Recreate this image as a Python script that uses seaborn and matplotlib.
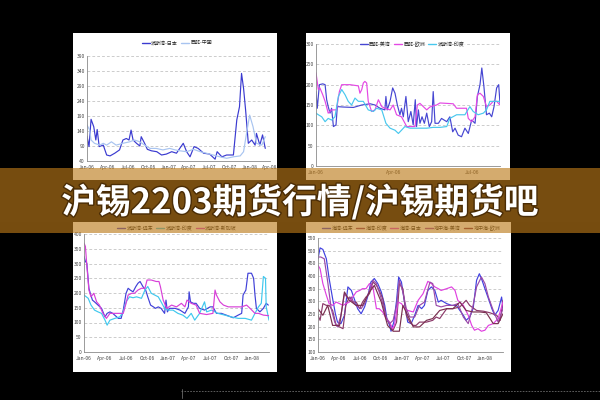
import numpy as np
import pandas as pd
import matplotlib
matplotlib.use("Agg")
import matplotlib.pyplot as plt
import matplotlib.patheffects as pe
from matplotlib.patches import Rectangle
from matplotlib.lines import Line2D
import seaborn as sns

sns.set_style("white")
plt.rcParams['font.family'] = ['Noto Sans CJK SC', 'DejaVu Sans']
plt.rcParams['axes.unicode_minus'] = False

TITLE = "沪锡2203期货行情/沪锡期货吧"

# ---------------- data (x = months since Jan-06) ----------------
month_labels_27 = ["Jan-06", "Apr-06", "Jul-06", "Oct-06", "Jan-07", "Apr-07",
                   "Jul-07", "Oct-07", "Jan-08", "Apr-08"]

# Panel 1
p1_names = ["波斯湾-日本", "西非-中国"]
p1_t_a = [0, 0.3, 0.6, 1.0, 1.3, 1.5, 1.8, 2.4, 2.9, 3.4, 4.1, 4.8, 5.3, 5.8, 6.2, 6.5, 6.8, 7.3, 7.8, 8.0,
          8.5, 8.9, 9.5, 10.3, 11.0, 11.7, 12.5, 13.2, 14.2, 14.7, 15.2, 15.8, 16.4, 17.2, 18.1, 18.9, 19.2,
          19.9, 20.6, 21.6, 22.1, 22.5, 22.8, 23.1, 23.4, 23.8, 24.3, 24.8, 25.0, 25.5, 25.9, 26.3]
p1_v_a = [123, 88, 179, 154, 110, 145, 88, 93, 60, 57, 66, 77, 110, 115, 110, 143, 110, 99, 90, 121,
          99, 79, 74, 71, 60, 63, 71, 66, 99, 71, 54, 88, 82, 66, 63, 46, 71, 54, 60, 60,
          177, 221, 332, 282, 210, 99, 110, 93, 132, 93, 127, 82]
p1_t_b = [0, 0.4, 0.6, 1.1, 1.9, 2.4, 2.9, 3.6, 4.3, 5.3, 6.3, 7.0, 7.8, 8.5, 9.3, 10.2, 11.2, 12.2, 13.0,
          13.7, 14.7, 15.7, 16.7, 17.6, 18.6, 19.6, 20.6, 21.6, 22.6, 23.1, 23.5, 24.0, 24.5, 25.0, 25.8, 26.3]
p1_v_b = [160, 143, 110, 99, 93, 99, 93, 104, 93, 99, 104, 110, 104, 93, 82, 82, 77, 82, 77, 74,
          71, 79, 71, 66, 60, 54, 49, 54, 57, 71, 127, 193, 154, 99, 93, 121]
p1_yticks = [40, 90, 140, 190, 240, 290, 340, 390]

# Panel 2
p2_names = ["西非-美湾", "西非-欧洲", "波斯湾-印度"]
p2_t_a = [0, 0.05, 0.13, 0.26, 0.35, 0.41, 0.47, 0.54, 0.60, 0.67, 0.77, 0.82, 1.05, 1.44, 1.76, 2.08, 2.27,
          2.46, 2.65, 2.69, 2.74, 2.85, 2.95, 3.04, 3.13, 3.23, 3.29, 3.36, 3.46, 3.55, 3.65, 3.74, 3.82,
          3.87, 3.94, 4.00, 4.08, 4.17, 4.26, 4.36, 4.45, 4.51, 4.58, 4.71, 4.83, 5.03, 5.15, 5.26, 5.35,
          5.47, 5.60, 5.73, 5.86, 5.99, 6.12, 6.21, 6.31, 6.38, 6.46, 6.56, 6.67, 6.76, 6.85, 6.95, 7.03, 7.08]
p2_v_a = [183, 142, 200, 202, 200, 163, 146, 130, 142, 97, 101, 146, 145, 144, 150, 153, 150,
          142, 138, 171, 138, 159, 192, 179, 150, 126, 142, 121, 171, 109, 134, 101, 163,
          97, 138, 105, 121, 105, 130, 97, 109, 183, 105, 105, 117, 109, 121, 84, 93,
          76, 72, 93, 80, 113, 105, 171, 200, 241, 196, 126, 130, 121, 146, 192, 200, 154]
p2_t_b = [0, 0.09, 0.15, 0.26, 0.35, 0.47, 0.60, 0.79, 0.90, 0.99, 1.31, 1.63, 1.69, 1.76, 1.82, 1.88, 1.95,
          2.01, 2.14, 2.27, 2.40, 2.53, 2.65, 2.85, 2.97, 3.10, 3.29, 3.49, 3.68, 3.81, 3.90, 4.00, 4.13,
          4.26, 4.38, 4.51, 4.64, 4.77, 5.03, 5.28, 5.41, 5.67, 5.79, 5.86, 5.99, 6.12, 6.21, 6.31, 6.44,
          6.56, 6.69, 6.82, 6.95, 7.08]
p2_v_b = [229, 188, 192, 175, 159, 130, 138, 138, 183, 200, 200, 197, 179, 188, 204, 208, 204,
          159, 134, 138, 163, 146, 142, 138, 150, 126, 121, 97, 97, 97, 150, 154, 146,
          138, 145, 148, 150, 155, 154, 153, 142, 142, 142, 117, 109, 121, 175, 179, 171,
          146, 150, 159, 159, 150]
p2_t_c = [0, 0.09, 0.22, 0.35, 0.47, 0.60, 0.73, 0.86, 0.99, 1.12, 1.24, 1.37, 1.50, 1.63, 1.82, 2.01, 2.21,
          2.33, 2.53, 2.69, 2.85, 3.04, 3.17, 3.29, 3.42, 3.62, 3.87, 4.26, 4.51, 4.77, 5.03, 5.15, 5.41,
          5.73, 5.92, 6.05, 6.24, 6.44, 6.56, 6.69, 6.88, 7.08]
p2_v_c = [130, 126, 121, 109, 117, 113, 121, 171, 188, 175, 159, 150, 167, 159, 159, 138, 134,
          142, 138, 105, 93, 88, 80, 88, 97, 93, 93, 93, 95, 95, 97, 117, 126,
          126, 146, 134, 126, 130, 138, 159, 159, 159]
p2_yticks = [0, 50, 100, 150, 200, 250, 300]
p2_xlabels = ["Jan-06", "Apr-06", "Jul-06"]

# Panel 3
p3_names = ["波斯湾-远东", "波斯湾-印度", "波斯湾-新加坡"]
p3_t_a = [0, 0.2, 0.4, 0.7, 0.9, 1.2, 1.5, 2.0, 2.5, 3.0, 3.3, 3.7, 4.1, 4.9, 5.3, 5.6, 6.0, 6.3, 6.6, 7.0,
          7.4, 7.7, 8.0, 8.4, 8.8, 9.1, 9.5, 9.9, 10.2, 10.6, 11.0, 11.5, 11.7, 11.9, 12.2, 13.0, 13.7,
          14.4, 14.9, 15.0, 15.2, 15.6, 16.0, 16.5, 17.2, 18.0, 18.4, 18.9, 19.6, 20.3, 21.3, 22.0, 22.5,
          22.7, 23.1, 23.4, 23.9, 24.2, 24.4, 24.6, 25.1, 25.6, 26.0, 26.3]
p3_v_a = [324, 307, 301, 216, 199, 176, 170, 159, 148, 119, 131, 136, 131, 114, 114, 142, 199, 216, 210, 204,
          222, 233, 239, 222, 210, 187, 159, 153, 148, 153, 148, 131, 176, 136, 148, 148, 142,
          131, 153, 204, 170, 165, 165, 148, 142, 153, 153, 131, 131, 125, 116, 125, 131,
          193, 210, 267, 267, 250, 193, 148, 136, 148, 165, 159]
p3_t_b = [0, 0.6, 1.0, 1.5, 2.0, 2.5, 3.0, 3.3, 3.7, 4.4, 5.1, 5.6, 6.0, 6.5, 7.0, 7.5, 8.2, 8.7, 9.1, 9.6,
          10.1, 10.6, 11.0, 11.5, 12.0, 12.7, 13.4, 14.1, 14.7, 15.3, 15.8, 16.5, 17.2, 17.5, 18.2, 19.1,
          20.1, 21.0, 22.0, 23.0, 23.9, 24.4, 24.9, 25.3, 25.6, 25.9, 26.0, 26.4]
p3_v_b = [193, 182, 159, 142, 136, 131, 108, 91, 108, 114, 119, 136, 170, 187, 184, 187, 182, 210, 222, 199,
          193, 187, 170, 148, 142, 142, 131, 125, 114, 131, 108, 131, 170, 136, 142, 131,
          125, 119, 114, 114, 108, 131, 153, 165, 256, 250, 153, 108]
p3_t_c = [0, 0.2, 0.4, 0.7, 1.0, 1.4, 1.8, 2.2, 2.7, 3.2, 3.7, 4.4, 5.1, 5.6, 6.0, 6.3, 6.8, 7.2, 7.7, 8.2,
          8.7, 9.0, 9.6, 10.3, 10.7, 10.9, 11.3, 11.8, 12.5, 13.2, 13.9, 14.4, 14.7, 15.3, 16.0, 16.5,
          17.5, 18.4, 18.7, 18.9, 19.4, 19.9, 20.6, 21.5, 22.5, 23.2, 23.7, 24.4, 24.9, 25.6, 26.4]
p3_v_c = [369, 358, 295, 210, 187, 199, 170, 159, 131, 114, 131, 131, 131, 131, 165, 193, 199, 199, 210, 216,
          216, 244, 244, 239, 239, 222, 176, 148, 159, 153, 165, 153, 176, 165, 159, 131,
          127, 131, 210, 193, 170, 159, 153, 153, 153, 159, 148, 131, 131, 125, 123]
p3_yticks = [0, 50, 100, 150, 200, 250, 300, 350, 400]
month_labels_24 = ["Jan-06", "Apr-06", "Jul-06", "Oct-06", "Jan-07", "Apr-07", "Jul-07", "Oct-07", "Jan-08"]

# Panel 4
p4_names = ["海湾-远东", "海湾-印度", "海湾-日本", "地中海-美湾", "地中海-欧洲"]
p4_t_a = [0, 0.3, 0.7, 1.2, 1.6, 2.1, 2.5, 2.8, 3.3, 3.8, 4.3, 4.8, 5.2, 5.7, 6.2, 6.7, 7.2, 7.6, 8.1, 8.6,
          9.1, 9.6, 9.9, 10.3, 10.5, 10.9, 11.3, 11.6, 12.0, 12.5, 12.9, 13.4, 13.9, 14.4, 14.9, 15.3, 15.8,
          16.3, 16.8, 17.3, 17.7, 18.5, 19.2, 19.9, 20.4, 20.9, 21.3, 21.8, 22.3, 22.8, 23.2, 23.5, 24.0,
          24.5, 25.0, 25.4, 25.9, 26.4, 26.6]
p4_v_a = [468, 511, 505, 468, 390, 311, 251, 218, 212, 245, 357, 343, 311, 271, 251, 278, 324, 376, 390, 370,
          337, 284, 232, 205, 182, 218, 304, 396, 376, 284, 218, 212, 245, 284, 271, 284, 343,
          357, 343, 297, 304, 291, 284, 284, 264, 245, 225, 238, 271, 383, 409, 390, 350,
          311, 271, 245, 264, 317, 271]
p4_t_b = [0, 0.3, 0.7, 1.2, 1.6, 2.1, 2.6, 3.1, 3.6, 4.0, 4.5, 5.0, 5.5, 6.0, 6.4, 6.9, 7.4, 7.9, 8.4, 8.8,
          9.3, 9.8, 10.3, 10.8, 11.3, 11.7, 12.2, 12.7, 13.2, 13.7, 14.1, 14.6, 15.6, 16.5, 17.0, 17.5,
          18.5, 19.4, 20.4, 21.3, 21.8, 22.8, 23.8, 24.7, 25.7, 26.2, 26.6]
p4_v_b = [245, 225, 291, 284, 284, 264, 205, 199, 192, 284, 317, 297, 297, 271, 297, 317, 330, 376, 363, 343,
          311, 232, 212, 186, 218, 370, 350, 245, 218, 205, 205, 218, 218, 225, 238, 232,
          271, 271, 278, 304, 284, 264, 261, 255, 245, 225, 304]
p4_t_c = [0, 0.3, 0.7, 1.2, 1.6, 2.1, 2.6, 3.1, 3.6, 4.0, 4.5, 5.0, 5.5, 6.0, 6.4, 6.9, 7.4, 7.9, 8.4, 8.8,
          9.3, 9.8, 10.3, 10.7, 11.0, 11.5, 12.0, 12.5, 12.9, 13.7, 14.4, 15.1, 15.8, 16.3, 16.8, 17.3,
          17.7, 18.5, 19.2, 19.7, 20.1, 20.9, 21.6, 22.1, 22.5, 23.0, 23.5, 24.0, 24.5, 25.2, 25.9, 26.6]
p4_v_c = [442, 429, 370, 324, 291, 284, 297, 291, 284, 291, 297, 317, 337, 343, 350, 350, 370, 357, 271, 271,
          258, 232, 218, 192, 205, 297, 291, 271, 264, 258, 304, 330, 379, 370, 357, 350,
          343, 350, 357, 343, 304, 284, 245, 205, 186, 192, 182, 186, 205, 212, 232, 297]
p4_t_d = [0, 0.4, 0.9, 1.4, 1.9, 2.4, 2.8, 3.3, 3.8, 4.3, 4.8, 5.2, 5.7, 6.2, 6.7, 7.4, 7.9, 8.4, 8.8, 9.3,
          9.8, 10.3, 10.8, 11.3, 11.7, 12.2, 12.7, 13.2, 13.9, 14.6, 15.3, 16.1, 16.5, 17.0, 17.7, 18.5,
          19.4, 20.1, 20.9, 21.6, 22.3, 22.8, 23.5, 24.0, 24.5, 25.2, 25.9, 26.6]
p4_v_d = [475, 475, 468, 376, 271, 218, 199, 245, 330, 311, 317, 291, 278, 271, 291, 343, 383, 370, 337, 291,
          238, 212, 225, 284, 383, 337, 271, 238, 238, 284, 297, 376, 370, 284, 278, 284,
          284, 291, 238, 212, 284, 357, 396, 370, 317, 264, 218, 271]
p4_t_e = [0, 0.7, 1.4, 2.1, 3.1, 3.8, 4.5, 5.5, 6.4, 7.4, 8.1, 9.1, 10.0, 10.8, 11.7, 12.2, 12.9, 13.7, 14.6,
          15.6, 16.5, 17.5, 18.5, 19.4, 20.4, 21.3, 22.3, 23.3, 24.2, 25.2, 25.9, 26.6]
p4_v_e = [271, 245, 284, 205, 205, 337, 304, 284, 284, 337, 363, 297, 205, 182, 182, 284, 245, 199, 199,
          225, 232, 264, 271, 271, 297, 264, 258, 258, 255, 212, 212, 251]
p4_yticks = [100, 150, 200, 250, 300, 350, 400, 450, 500, 550]

# ---------------- figure ----------------
W, H = 600, 400
fig = plt.figure(figsize=(6, 4), dpi=100, facecolor="black")


def frect(x0, y0, x1, y1):
    return [x0 / W, 1 - y1 / H, (x1 - x0) / W, (y1 - y0) / H]


def panel_bg(x0, y0, x1, y1):
    fig.add_artist(Rectangle((x0 / W, 1 - y1 / H), (x1 - x0) / W, (y1 - y0) / H,
                             transform=fig.transFigure, facecolor="white",
                             edgecolor="none", zorder=-5))


def draw_panel(area, series, names, colors, ylim, yticks, xlim, xticks, xlabels,
               leg_center, leg_bg=False):
    ax = fig.add_axes(frect(*area))
    ax.set_facecolor("none")
    frames = []
    for (t, v), n in zip(series, names):
        frames.append(pd.DataFrame({"t": t, "v": v, "s": n}))
    df = pd.concat(frames, ignore_index=True)
    sns.lineplot(data=df, x="t", y="v", hue="s", hue_order=names,
                 palette=dict(zip(names, colors)), linewidth=0.85,
                 estimator=None, ax=ax, legend=False)
    ax.set_xlim(*xlim)
    ax.set_ylim(*ylim)
    ax.set_yticks(yticks)
    ax.set_xticks(xticks)
    ax.set_xticklabels(xlabels)
    ax.set_xlabel("")
    ax.set_ylabel("")
    for yv in yticks[1:]:
        ax.axhline(yv, color="#b8b8b8", lw=0.5, ls=(0, (4, 3)), zorder=0)
    for s in ["top", "right"]:
        ax.spines[s].set_visible(False)
    for s in ["left", "bottom"]:
        ax.spines[s].set_color("#8a8a8a")
        ax.spines[s].set_linewidth(0.6)
    ax.tick_params(axis="both", labelsize=3.6, colors="#444444", length=1.5,
                   width=0.5, pad=1.5)
    ax.tick_params(axis="y", length=0)
    handles = [Line2D([0], [0], color=c, lw=1.0) for c in colors]
    lx, ly = leg_center
    leg = fig.legend(handles, names, loc="center", bbox_to_anchor=(lx / W, 1 - ly / H),
                     ncol=len(names), fontsize=3.6, frameon=leg_bg, handlelength=1.6,
                     handletextpad=0.3, columnspacing=0.6, borderpad=0.2)
    if leg_bg:
        leg.get_frame().set_facecolor("white")
        leg.get_frame().set_edgecolor("none")
    return ax


# panel backgrounds
panel_bg(73, 33, 277, 182)
panel_bg(306, 33, 510, 182)
panel_bg(73, 218, 277, 372)
panel_bg(306, 218, 511, 372)

draw_panel((87, 56, 270, 161), [(p1_t_a, p1_v_a), (p1_t_b, p1_v_b)], p1_names,
           ["#3a3ad0", "#a8c4f0"], (40, 390), p1_yticks, (0, 27),
           list(range(0, 28, 3)), month_labels_27, (177, 43))

draw_panel((316, 44, 500, 166), [(p2_t_a, p2_v_a), (p2_t_b, p2_v_b), (p2_t_c, p2_v_c)], p2_names,
           ["#4646d2", "#e448e4", "#48c8ee"], (0, 300), p2_yticks, (0, 7.08),
           [0, 3, 6], p2_xlabels, (412, 44), leg_bg=True)

draw_panel((84, 234, 269, 352), [(p3_t_a, p3_v_a), (p3_t_b, p3_v_b), (p3_t_c, p3_v_c)], p3_names,
           ["#4040d8", "#40c8ee", "#d840d8"], (0, 400), p3_yticks, (0, 26.4),
           list(range(0, 25, 3)), month_labels_24, (177, 228))

draw_panel((318, 238, 503, 352),
           [(p4_t_a, p4_v_a), (p4_t_b, p4_v_b), (p4_t_c, p4_v_c), (p4_t_d, p4_v_d), (p4_t_e, p4_v_e)],
           p4_names, ["#4040e0", "#8c3a6a", "#e040e0", "#9a4aa8", "#7a3050"],
           (100, 550), p4_yticks, (0, 26.6), list(range(0, 25, 3)), month_labels_24, (411, 228))

# faint frame of a panel below
fig.add_artist(Line2D([181 / W, 1.0], [1 - 391 / H, 1 - 391 / H], transform=fig.transFigure,
                      color="#6a6a6a", lw=0.6, ls=(0, (2, 1.5)), zorder=3))
fig.add_artist(Line2D([182 / W, 182 / W], [1 - 389 / H, 1 - 398 / H], transform=fig.transFigure,
                      color="#6a6a6a", lw=0.6, zorder=3))

# banner: translucent band + opaque centre strip
fig.add_artist(Rectangle((0, 1 - 233 / H), 1, (233 - 168) / H, transform=fig.transFigure,
                         facecolor="#bc7a19", alpha=0.63, edgecolor="none", zorder=20))
fig.add_artist(Rectangle((0, 1 - 222 / H), 1, (222 - 180) / H, transform=fig.transFigure,
                         facecolor="#774d10", edgecolor="none", zorder=21))
fig.text(0.5, 1 - 202 / H, TITLE, ha="center", va="center", color="white",
         fontsize=25, fontweight="bold", zorder=22,
         path_effects=[pe.withStroke(linewidth=2, foreground="#4a2c05")])

fig.savefig("out.png", dpi=100, facecolor="black")
